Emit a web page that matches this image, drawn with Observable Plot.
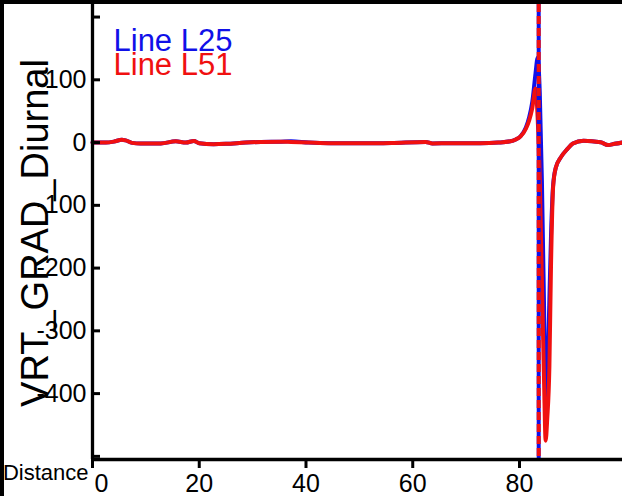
<!DOCTYPE html>
<html><head><meta charset="utf-8">
<script src="https://cdn.jsdelivr.net/npm/d3@7"></script>
<script src="https://cdn.jsdelivr.net/npm/@observablehq/plot@0.6"></script>
<style>
html,body{margin:0;padding:0;background:#fff;overflow:hidden}
#wrap{width:618px;height:492px;border-top:4px solid #000;border-left:4px solid #000;background:#fff}
</style></head><body><div id="wrap"></div>
<script>
const distance = [0, 2.5, 4, 5.5, 6.2, 7.4, 9, 12.8, 15.6, 17.5, 19, 20, 22.7, 25, 28.7, 31.5, 35.3, 37.2, 40.5, 44.7, 50.3, 56, 62.4, 63.7, 67, 72.7, 76, 78.3, 79.3, 80.2, 81.2, 81.8, 82.4, 83.0, 83.4, 83.8, 84.2, 84.6, 84.9, 85.2, 85.6, 85.9, 86.3, 86.8, 87.7, 89, 90, 92, 95.2, 96.6, 97.8, 99.3];
const lineL25 = [0, 0, 1.5, 4.5, 3.5, -0.5, -1.5, -1.5, 2, 0, 2.5, -1, -2.5, -2, 0, 1, 1.5, 2, 0, -1, -1, -0.5, 1, -1.5, -1, -1, 0, 2, 5, 10, 24, 40, 65, 110, 135, 80, -60, -260, -420, -380, -250, -150, -68, -40, -24, -10, -1.5, 3, 0.5, -4, -2, 0];
const lineL51 = [0, 0, 1.5, 4.5, 3.5, -0.5, -1.5, -1.5, 2, 0, 2.5, -1, -2.5, -2, 0, 1, 1.5, 1, 0, -1, -1, -0.5, 1, -1.5, -1, -1, 0, 2, 5, 10, 22, 35, 55, 86, 40, -60, -220, -380, -475, -440, -358, -199, -71, -40, -24, -10, -1.5, 3, 0.5, -4, -2, 0];
const seriesNames = ["Line L25", "Line L51"];
const seriesColors = ["#1010e8", "#f01010"];
const markerDistance = [83.6];
const xDomain = [0, 99.3];
const yDomain = [-505, 220];
const xTicks = [0, 20, 40, 60, 80];
const yTicks = [200, 100, 0, -100, -200, -300, -400, -500];
const yLabeledTicks = [100, 0, -100, -200, -300, -400];
const yTitle = "VRT_GRAD_Diurnal";
const xTitle = "Distance";

const rows25 = distance.map((d, i) => ({distance: d, value: lineL25[i]}));
const rows51 = distance.map((d, i) => ({distance: d, value: lineL51[i]}));
const blue = seriesColors[0], red = seriesColors[1];

const chart = Plot.plot({
  width: 618, height: 492,
  marginLeft: 88, marginRight: 0, marginTop: 0, marginBottom: 37,
  style: {fontFamily: "'Liberation Sans', Arial, sans-serif", fontSize: "25px", background: "#fff", overflow: "visible", color: "#000"},
  x: {domain: xDomain, axis: null, label: null},
  y: {domain: yDomain, axis: null, label: null},
  marks: [
    Plot.line(rows25, {x: "distance", y: "value", stroke: blue, strokeWidth: 4, curve: "monotone-x"}),
    Plot.line(rows51, {x: "distance", y: "value", stroke: red, strokeWidth: 4, curve: "monotone-x"}),
    Plot.ruleX(markerDistance, {stroke: blue, strokeWidth: 4}),
    Plot.ruleX(markerDistance, {stroke: red, strokeWidth: 4, strokeDasharray: "8,4"}),
    Plot.ruleX([xDomain[0]], {stroke: "#000", strokeWidth: 3.3}),
    Plot.ruleY([yDomain[0]], {stroke: "#000", strokeWidth: 3.3}),
    Plot.axisX(xTicks, {tickSize: 9, tickPadding: 6, strokeWidth: 3, fontSize: 25, label: null, tickFormat: d => d === 0 ? "" : String(d)}),
    Plot.text([xTicks[0]], {x: d => d, frameAnchor: "bottom", lineAnchor: "top", dy: 15, dx: 9, fontSize: 25, text: d => String(d)}),
    Plot.axisY(yTicks, {tickSize: -8, strokeWidth: 3, label: null, tickFormat: () => ""}),
    Plot.axisY(yLabeledTicks, {tickSize: 0, tickPadding: 6, fontSize: 25, label: null, tickFormat: d => String(d)}),
    Plot.text([yTitle], {frameAnchor: "left", textAnchor: "middle", rotate: -90, dx: -57, dy: 1, fontSize: 38, text: d => d}),
    Plot.text([xTitle], {frameAnchor: "bottom-left", textAnchor: "end", dx: -4, dy: 20, fontSize: 22, text: d => d}),
    Plot.text([seriesNames[0]], {frameAnchor: "top-left", textAnchor: "start", dx: 21, dy: 24, fontSize: 31, fill: blue, text: d => d}),
    Plot.text([seriesNames[1]], {frameAnchor: "top-left", textAnchor: "start", dx: 21, dy: 48, fontSize: 31, fill: red, text: d => d})
  ]
});
document.getElementById("wrap").appendChild(chart);
</script></body></html>
